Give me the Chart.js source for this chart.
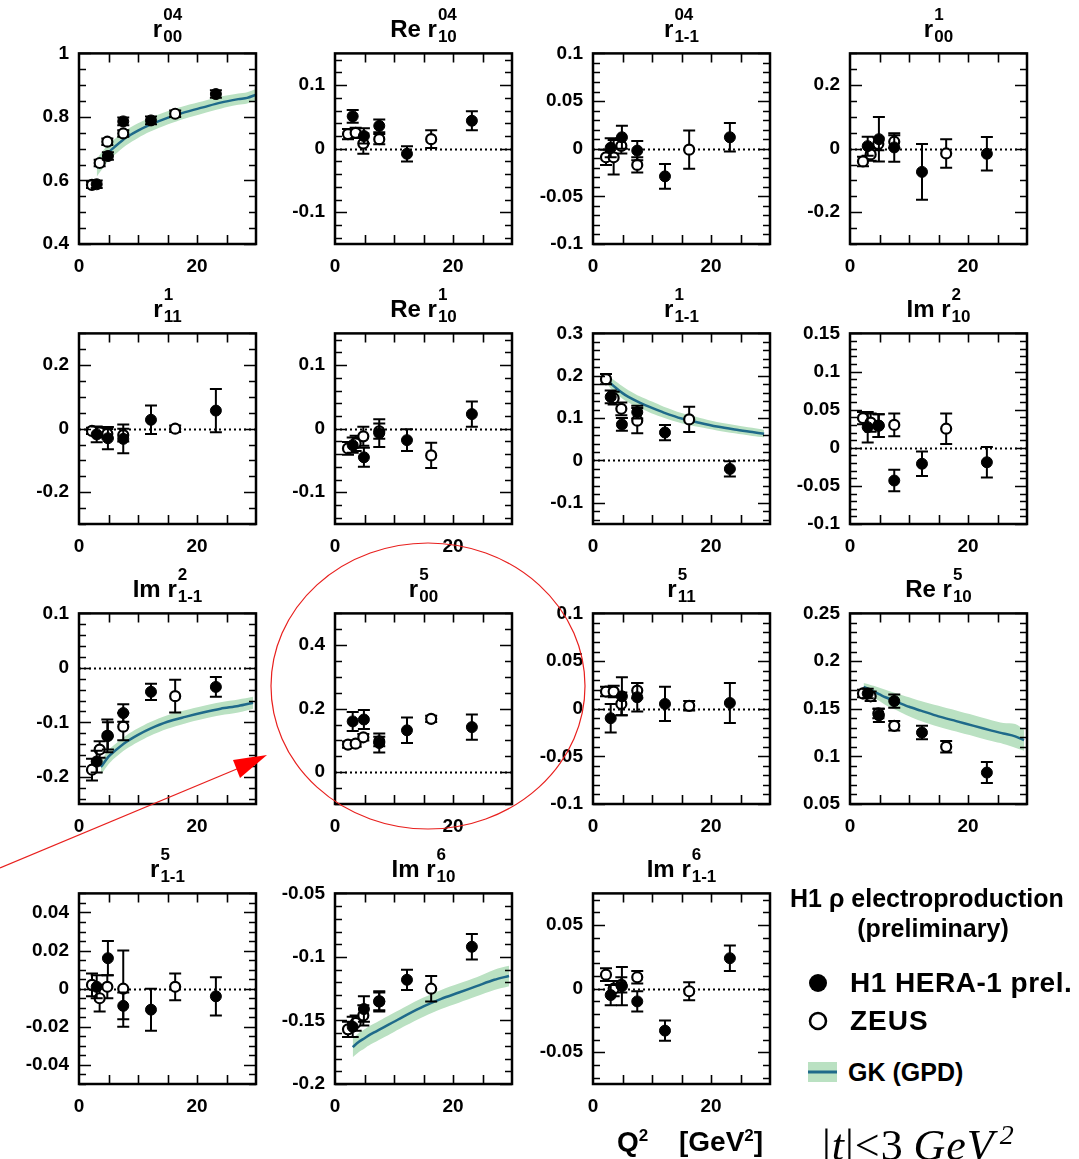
<!DOCTYPE html>
<html>
<head>
<meta charset="utf-8">
<script src="https://cdn.jsdelivr.net/npm/chart.js@4.4.0/dist/chart.umd.min.js"></script>
<style>
  body { margin: 0; background: #fff; width: 1079px; height: 1159px; position: relative; overflow: hidden;
         font-family: "Liberation Sans", Arial, sans-serif; }
  canvas.pan { position: absolute; }
  .ttl { position: absolute; height: 60px; line-height: 60px; text-align: center; font-weight: bold;
         font-size: 24px; white-space: nowrap; }
  .ss { display: inline-flex; flex-direction: column; font-size: 17px; line-height: 22px;
        vertical-align: 17px; text-align: left; margin-left: 1px; }
  .lg { position: absolute; font-weight: bold; font-size: 25px; white-space: nowrap; line-height: 30px; }
  svg.ov { position: absolute; left: 0; top: 0; pointer-events: none; }
</style>
</head>
<body>
<script>
// Q^2 bins (GeV^2)
const h1Q2   = [3.0, 4.9, 7.5, 12.2, 23.2];
const zeusQ2 = [2.2, 3.5, 4.8, 7.5, 16.3];

// r00^04
const yTicks_r04_00 = [0.4, 0.6, 0.8, 1];
const h1_r04_00 = [0.588, 0.677, 0.786, 0.789, 0.872];
const h1Err_r04_00 = [0.012, 0.012, 0.012, 0.012, 0.012];
const zeus_r04_00 = [0.586, 0.655, 0.722, 0.748, 0.81];
const zeusErr_r04_00 = [0.01, 0.01, 0.01, 0.01, 0.01];
const gkQ2_r04_00 = [3, 4, 5, 6, 8, 10, 12, 15, 18, 21, 24, 27, 28.5, 30];
const gk_r04_00   = [0.64, 0.665, 0.688, 0.705, 0.735, 0.757, 0.775, 0.797, 0.815, 0.83, 0.845, 0.856, 0.86, 0.87];
const gkLo_r04_00 = [0.612, 0.638, 0.662, 0.68, 0.711, 0.734, 0.753, 0.776, 0.795, 0.811, 0.826, 0.838, 0.842, 0.853];
const gkHi_r04_00 = [0.668, 0.692, 0.713, 0.73, 0.759, 0.78, 0.797, 0.818, 0.835, 0.849, 0.864, 0.874, 0.878, 0.888];

// Re r10^04
const yTicks_r04_10 = [-0.1, 0, 0.1];
const h1_r04_10 = [0.051, 0.02, 0.036, -0.008, 0.044];
const h1Err_r04_10 = [0.01, 0.012, 0.01, 0.012, 0.015];
const zeus_r04_10 = [0.023, 0.025, 0.008, 0.015, 0.015];
const zeusErr_r04_10 = [0.008, 0.008, 0.016, 0.008, 0.014];

// r1-1^04
const yTicks_r04_1m1 = [-0.1, -0.05, 0, 0.05, 0.1];
const h1_r04_1m1 = [0.001, 0.012, -0.002, -0.029, 0.012];
const h1Err_r04_1m1 = [0.01, 0.012, 0.01, 0.013, 0.015];
const zeus_r04_1m1 = [-0.009, -0.009, 0.003, -0.017, -0.001];
const zeusErr_r04_1m1 = [0.008, 0.018, 0.008, 0.008, 0.02];

// r00^1
const yTicks_r1_00 = [-0.2, 0, 0.2];
const h1_r1_00 = [0.008, 0.03, 0.004, -0.073, -0.016];
const h1Err_r1_00 = [0.03, 0.07, 0.045, 0.088, 0.053];
const zeus_r1_00 = [-0.04, -0.018, 0.015, 0.022, -0.015];
const zeusErr_r1_00 = [0.015, 0.02, 0.02, 0.02, 0.045];

// r11^1
const yTicks_r1_11 = [-0.2, 0, 0.2];
const h1_r1_11 = [-0.018, -0.03, -0.032, 0.028, 0.057];
const h1Err_r1_11 = [0.025, 0.035, 0.045, 0.045, 0.068];
const zeus_r1_11 = [-0.007, -0.012, -0.016, -0.02, 0.0];
const zeusErr_r1_11 = [0.01, 0.012, 0.015, 0.02, 0.01];

// Re r10^1
const yTicks_r1_10 = [-0.1, 0, 0.1];
const h1_r1_10 = [-0.026, -0.045, -0.007, -0.018, 0.023];
const h1Err_r1_10 = [0.012, 0.015, 0.022, 0.017, 0.02];
const zeus_r1_10 = [-0.031, -0.023, -0.012, -0.004, -0.042];
const zeusErr_r1_10 = [0.01, 0.012, 0.015, 0.012, 0.02];

// r1-1^1
const yTicks_r1_1m1 = [-0.1, 0, 0.1, 0.2, 0.3];
const h1_r1_1m1 = [0.15, 0.085, 0.114, 0.066, -0.02];
const h1Err_r1_1m1 = [0.015, 0.015, 0.015, 0.018, 0.018];
const zeus_r1_1m1 = [0.192, 0.147, 0.122, 0.094, 0.097];
const zeusErr_r1_1m1 = [0.012, 0.015, 0.015, 0.03, 0.03];
const gkQ2_r1_1m1 = [2.5, 3, 4, 5, 6, 8, 10, 12, 15, 18, 21, 24, 27, 29];
const gk_r1_1m1   = [0.19, 0.182, 0.17, 0.159, 0.15, 0.136, 0.124, 0.113, 0.099, 0.089, 0.08, 0.073, 0.067, 0.063];
const gkLo_r1_1m1 = [0.18, 0.17, 0.157, 0.146, 0.137, 0.123, 0.111, 0.101, 0.088, 0.079, 0.071, 0.064, 0.058, 0.055];
const gkHi_r1_1m1 = [0.2, 0.195, 0.185, 0.175, 0.166, 0.151, 0.139, 0.127, 0.112, 0.101, 0.091, 0.084, 0.077, 0.072];

// Im r10^2
const yTicks_r2_10 = [-0.1, -0.05, 0, 0.05, 0.1, 0.15];
const h1_r2_10 = [0.027, 0.029, -0.043, -0.021, -0.019];
const h1Err_r2_10 = [0.02, 0.015, 0.014, 0.016, 0.02];
const zeus_r2_10 = [0.039, 0.033, 0.029, 0.03, 0.025];
const zeusErr_r2_10 = [0.008, 0.012, 0.015, 0.015, 0.02];

// Im r1-1^2
const yTicks_r2_1m1 = [-0.2, -0.1, 0, 0.1];
const h1_r2_1m1 = [-0.172, -0.125, -0.083, -0.044, -0.035];
const h1Err_r2_1m1 = [0.02, 0.025, 0.016, 0.015, 0.018];
const zeus_r2_1m1 = [-0.187, -0.15, -0.125, -0.108, -0.052];
const zeusErr_r2_1m1 = [0.02, 0.015, 0.03, 0.025, 0.03];
const gkQ2_r2_1m1 = [3.7, 4, 5, 6, 8, 10, 12, 15, 18, 21, 24, 27, 29.5];
const gk_r2_1m1   = [-0.182, -0.178, -0.163, -0.153, -0.136, -0.123, -0.112, -0.099, -0.09, -0.082, -0.075, -0.07, -0.064];
const gkLo_r2_1m1 = [-0.196, -0.192, -0.177, -0.166, -0.149, -0.136, -0.125, -0.112, -0.102, -0.094, -0.087, -0.082, -0.075];
const gkHi_r2_1m1 = [-0.17, -0.166, -0.151, -0.141, -0.124, -0.111, -0.1, -0.087, -0.078, -0.07, -0.063, -0.058, -0.053];

// r00^5
const yTicks_r5_00 = [0, 0.2, 0.4];
const h1_r5_00 = [0.16, 0.166, 0.092, 0.132, 0.142];
const h1Err_r5_00 = [0.03, 0.03, 0.03, 0.04, 0.04];
const zeus_r5_00 = [0.087, 0.09, 0.11, 0.097, 0.168];
const zeusErr_r5_00 = [0.01, 0.01, 0.01, 0.015, 0.01];

// r11^5
const yTicks_r5_11 = [-0.1, -0.05, 0, 0.05, 0.1];
const h1_r5_11 = [-0.01, 0.013, 0.012, 0.005, 0.006];
const h1Err_r5_11 = [0.015, 0.02, 0.015, 0.018, 0.021];
const zeus_r5_11 = [0.018, 0.018, 0.005, 0.019, 0.003];
const zeusErr_r5_11 = [0.005, 0.006, 0.012, 0.008, 0.005];

// Re r10^5
const yTicks_r5_10 = [0.05, 0.1, 0.15, 0.2, 0.25];
const h1_r5_10 = [0.166, 0.143, 0.158, 0.125, 0.083];
const h1Err_r5_10 = [0.005, 0.007, 0.007, 0.007, 0.011];
const zeus_r5_10 = [0.166, 0.163, 0.145, 0.132, 0.11];
const zeusErr_r5_10 = [0.004, 0.005, 0.005, 0.005, 0.006];
const gkQ2_r5_10 = [2.3, 3, 4, 5, 6, 8, 10, 12, 15, 18, 21, 24, 26, 28, 29.5];
const gk_r5_10   = [0.173, 0.171, 0.168, 0.165, 0.162, 0.157, 0.152, 0.148, 0.142, 0.137, 0.132, 0.127, 0.124, 0.121, 0.117];
const gkLo_r5_10 = [0.168, 0.166, 0.162, 0.158, 0.154, 0.148, 0.142, 0.137, 0.131, 0.126, 0.121, 0.116, 0.113, 0.109, 0.106];
const gkHi_r5_10 = [0.177, 0.176, 0.174, 0.172, 0.17, 0.166, 0.162, 0.158, 0.153, 0.148, 0.143, 0.138, 0.135, 0.134, 0.128];

// r1-1^5
const yTicks_r5_1m1 = [-0.04, -0.02, 0, 0.02, 0.04];
const h1_r5_1m1 = [0.001, 0.016, -0.009, -0.011, -0.004];
const h1Err_r5_1m1 = [0.006, 0.009, 0.007, 0.011, 0.01];
const zeus_r5_1m1 = [0.002, -0.005, 0.001, 0.0, 0.001];
const zeusErr_r5_1m1 = [0.006, 0.007, 0.006, 0.02, 0.007];

// Im r10^6
const yTicks_r6_10 = [-0.2, -0.15, -0.1, -0.05];
const h1_r6_10 = [-0.155, -0.141, -0.135, -0.118, -0.092];
const h1Err_r6_10 = [0.008, 0.01, 0.008, 0.008, 0.01];
const zeus_r6_10 = [-0.157, -0.152, -0.146, -0.135, -0.125];
const zeusErr_r6_10 = [0.006, 0.006, 0.008, 0.007, 0.01];
const gkQ2_r6_10 = [3, 4, 5, 6, 8, 10, 12, 15, 18, 21, 24, 27, 29.5];
const gk_r6_10   = [-0.171, -0.167, -0.164, -0.161, -0.156, -0.151, -0.146, -0.139, -0.133, -0.128, -0.123, -0.118, -0.115];
const gkLo_r6_10 = [-0.179, -0.175, -0.172, -0.169, -0.164, -0.159, -0.154, -0.147, -0.141, -0.136, -0.131, -0.126, -0.123];
const gkHi_r6_10 = [-0.164, -0.16, -0.157, -0.154, -0.149, -0.144, -0.139, -0.132, -0.126, -0.121, -0.116, -0.11, -0.107];

// Im r1-1^6
const yTicks_r6_1m1 = [-0.05, 0, 0.05];
const h1_r6_1m1 = [-0.005, 0.002, -0.01, -0.033, 0.024];
const h1Err_r6_1m1 = [0.008, 0.015, 0.008, 0.008, 0.01];
const zeus_r6_1m1 = [0.011, 0.0, 0.003, 0.009, -0.002];
const zeusErr_r6_1m1 = [0.005, 0.006, 0.006, 0.005, 0.007];

const xTicks = [0, 20];

// panel table (axis range, data refs); grid position comes from the index
const panels = [
  { pre: '', sup: '04', sub: '00', min: 0.4, max: 1, ticks: yTicks_r04_00, minor: 0.05,
    h1: h1_r04_00, h1e: h1Err_r04_00, ze: zeus_r04_00, zee: zeusErr_r04_00,
    gk: [gkQ2_r04_00, gk_r04_00, gkLo_r04_00, gkHi_r04_00] },
  { pre: 'Re ', sup: '04', sub: '10', min: -0.15, max: 0.15, ticks: yTicks_r04_10, minor: 0.02,
    h1: h1_r04_10, h1e: h1Err_r04_10, ze: zeus_r04_10, zee: zeusErr_r04_10 },
  { pre: '', sup: '04', sub: '1-1', min: -0.1, max: 0.1, ticks: yTicks_r04_1m1, minor: 0.01,
    h1: h1_r04_1m1, h1e: h1Err_r04_1m1, ze: zeus_r04_1m1, zee: zeusErr_r04_1m1 },
  { pre: '', sup: '1', sub: '00', min: -0.3, max: 0.3, ticks: yTicks_r1_00, minor: 0.05,
    h1: h1_r1_00, h1e: h1Err_r1_00, ze: zeus_r1_00, zee: zeusErr_r1_00 },
  { pre: '', sup: '1', sub: '11', min: -0.3, max: 0.3, ticks: yTicks_r1_11, minor: 0.05,
    h1: h1_r1_11, h1e: h1Err_r1_11, ze: zeus_r1_11, zee: zeusErr_r1_11 },
  { pre: 'Re ', sup: '1', sub: '10', min: -0.15, max: 0.15, ticks: yTicks_r1_10, minor: 0.02,
    h1: h1_r1_10, h1e: h1Err_r1_10, ze: zeus_r1_10, zee: zeusErr_r1_10 },
  { pre: '', sup: '1', sub: '1-1', min: -0.15, max: 0.3, ticks: yTicks_r1_1m1, minor: 0.02,
    h1: h1_r1_1m1, h1e: h1Err_r1_1m1, ze: zeus_r1_1m1, zee: zeusErr_r1_1m1,
    gk: [gkQ2_r1_1m1, gk_r1_1m1, gkLo_r1_1m1, gkHi_r1_1m1] },
  { pre: 'Im ', sup: '2', sub: '10', min: -0.1, max: 0.15, ticks: yTicks_r2_10, minor: 0.01,
    h1: h1_r2_10, h1e: h1Err_r2_10, ze: zeus_r2_10, zee: zeusErr_r2_10 },
  { pre: 'Im ', sup: '2', sub: '1-1', min: -0.25, max: 0.1, ticks: yTicks_r2_1m1, minor: 0.02,
    h1: h1_r2_1m1, h1e: h1Err_r2_1m1, ze: zeus_r2_1m1, zee: zeusErr_r2_1m1,
    gk: [gkQ2_r2_1m1, gk_r2_1m1, gkLo_r2_1m1, gkHi_r2_1m1] },
  { pre: '', sup: '5', sub: '00', min: -0.1, max: 0.5, ticks: yTicks_r5_00, minor: 0.05,
    h1: h1_r5_00, h1e: h1Err_r5_00, ze: zeus_r5_00, zee: zeusErr_r5_00 },
  { pre: '', sup: '5', sub: '11', min: -0.1, max: 0.1, ticks: yTicks_r5_11, minor: 0.01,
    h1: h1_r5_11, h1e: h1Err_r5_11, ze: zeus_r5_11, zee: zeusErr_r5_11 },
  { pre: 'Re ', sup: '5', sub: '10', min: 0.05, max: 0.25, ticks: yTicks_r5_10, minor: 0.01,
    h1: h1_r5_10, h1e: h1Err_r5_10, ze: zeus_r5_10, zee: zeusErr_r5_10,
    gk: [gkQ2_r5_10, gk_r5_10, gkLo_r5_10, gkHi_r5_10] },
  { pre: '', sup: '5', sub: '1-1', min: -0.05, max: 0.05, ticks: yTicks_r5_1m1, minor: 0.005,
    h1: h1_r5_1m1, h1e: h1Err_r5_1m1, ze: zeus_r5_1m1, zee: zeusErr_r5_1m1 },
  { pre: 'Im ', sup: '6', sub: '10', min: -0.2, max: -0.05, ticks: yTicks_r6_10, minor: 0.01,
    h1: h1_r6_10, h1e: h1Err_r6_10, ze: zeus_r6_10, zee: zeusErr_r6_10,
    gk: [gkQ2_r6_10, gk_r6_10, gkLo_r6_10, gkHi_r6_10] },
  { pre: 'Im ', sup: '6', sub: '1-1', min: -0.075, max: 0.075, ticks: yTicks_r6_1m1, minor: 0.01,
    h1: h1_r6_1m1, h1e: h1Err_r6_1m1, ze: zeus_r6_1m1, zee: zeusErr_r6_1m1 }
];

const colX = [79, 335, 593, 850];   // left edge of each plot frame
const rowY = [53, 333, 613, 893];   // top edge of each plot frame
const PW = 177, PH = 190;
const AXW = 75, TOPROOM = 22, PADR = 12, AXH = 40;

const bandColor = 'rgb(186,225,194)';
const gkColor = '#1f6a8a';
const tickFont = { family: 'Liberation Sans', size: 19, weight: 'bold' };

function fmt(v) {
  const r = Math.round(v * 1000) / 1000;
  return r === 0 ? '0' : String(r);
}

// error bars, drawn right before each marker set so markers sit on top
const errBars = {
  id: 'errBars',
  beforeDatasetDraw(chart, args) {
    const ds = chart.data.datasets[args.index];
    if (!ds.err) return;
    const xs = chart.scales.x, ys = chart.scales.y, ctx = chart.ctx, a = chart.chartArea;
    ctx.save();
    ctx.beginPath();
    ctx.rect(a.left, a.top, a.right - a.left, a.bottom - a.top);
    ctx.clip();
    ctx.strokeStyle = '#000';
    ctx.lineWidth = 2;
    ds.data.forEach((pt, i) => {
      const px = xs.getPixelForValue(pt.x);
      const y1 = ys.getPixelForValue(pt.y - ds.err[i]);
      const y2 = ys.getPixelForValue(pt.y + ds.err[i]);
      ctx.beginPath();
      ctx.moveTo(px, y1); ctx.lineTo(px, y2);
      ctx.moveTo(px - 6, y1); ctx.lineTo(px + 6, y1);
      ctx.moveTo(px - 6, y2); ctx.lineTo(px + 6, y2);
      ctx.stroke();
    });
    ctx.restore();
  }
};

// dotted zero line under the data
const zeroLine = {
  id: 'zeroLine',
  beforeDatasetsDraw(chart) {
    const ys = chart.scales.y, a = chart.chartArea, ctx = chart.ctx;
    if (ys.min >= 0 || ys.max <= 0) return;
    const y0 = Math.round(ys.getPixelForValue(0)) + 0.5;
    ctx.save();
    ctx.strokeStyle = '#000';
    ctx.lineWidth = 2;
    ctx.setLineDash([2, 3]);
    ctx.beginPath();
    ctx.moveTo(a.left, y0); ctx.lineTo(a.right, y0);
    ctx.stroke();
    ctx.restore();
  }
};

// ROOT style frame with ticks pointing inwards on all four sides
const frame = {
  id: 'frame',
  afterDraw(chart, args, opts) {
    const xs = chart.scales.x, ys = chart.scales.y, a = chart.chartArea, ctx = chart.ctx;
    ctx.save();
    ctx.strokeStyle = '#000';
    ctx.lineWidth = 1.6;
    ctx.beginPath();
    const k0 = Math.ceil(ys.min / opts.minor - 1e-6), k1 = Math.floor(ys.max / opts.minor + 1e-6);
    for (let k = k0; k <= k1; k++) {
      const v = k * opts.minor;
      const major = opts.ticks.some(t => Math.abs(t - v) < opts.minor / 10);
      const len = major ? 12 : 7;
      const py = Math.round(ys.getPixelForValue(v)) + 0.5;
      ctx.moveTo(a.left, py); ctx.lineTo(a.left + len, py);
      ctx.moveTo(a.right, py); ctx.lineTo(a.right - len, py);
    }
    for (let v = 5; v < xs.max; v += 5) {
      const px = Math.round(xs.getPixelForValue(v)) + 0.5;
      ctx.moveTo(px, a.bottom); ctx.lineTo(px, a.bottom - 9);
      ctx.moveTo(px, a.top); ctx.lineTo(px, a.top + 9);
    }
    ctx.stroke();
    ctx.lineWidth = 2.5;
    ctx.strokeRect(a.left, a.top, a.right - a.left, a.bottom - a.top);
    ctx.restore();
  }
};

function makePanel(p, idx) {
  const col = idx % 4, row = Math.floor(idx / 4);
  const left = colX[col], top = rowY[row];

  const cv = document.createElement('canvas');
  cv.className = 'pan';
  cv.width = AXW + PW + PADR;
  cv.height = TOPROOM + PH + AXH;
  cv.style.left = (left - AXW) + 'px';
  document.body.appendChild(cv);

  const t = document.createElement('div');
  t.className = 'ttl';
  t.style.left = (left - 40) + 'px';
  t.style.width = (PW + 80) + 'px';
  t.style.top = (top - 54) + 'px';
  t.innerHTML = p.pre + 'r<span class="ss"><span>' + p.sup + '</span><span>' + p.sub + '</span></span>';
  document.body.appendChild(t);

  const datasets = [
    { label: 'H1 HERA-1 prel.', data: h1Q2.map((x, i) => ({ x: x, y: p.h1[i] })), err: p.h1e,
      showLine: false, pointRadius: 5.5, pointBackgroundColor: '#000', pointBorderColor: '#000',
      pointBorderWidth: 1, order: 0 },
    { label: 'ZEUS', data: zeusQ2.map((x, i) => ({ x: x, y: p.ze[i] })), err: p.zee,
      showLine: false, pointRadius: 5, pointBackgroundColor: '#fff', pointBorderColor: '#000',
      pointBorderWidth: 2.2, order: 1 }
  ];
  if (p.gk) {
    const [gx, gm, glo, ghi] = p.gk;
    datasets.push({ type: 'line', label: 'GK (GPD)', data: gx.map((x, i) => ({ x: x, y: gm[i] })),
      borderColor: gkColor, borderWidth: 2.5, pointRadius: 0, fill: false, tension: 0.3, order: 2 });
    datasets.push({ type: 'line', label: 'band hi', data: gx.map((x, i) => ({ x: x, y: ghi[i] })),
      borderWidth: 0, borderColor: 'rgba(0,0,0,0)', pointRadius: 0, tension: 0.3,
      backgroundColor: bandColor, fill: '+1', order: 3 });
    datasets.push({ type: 'line', label: 'band lo', data: gx.map((x, i) => ({ x: x, y: glo[i] })),
      borderWidth: 0, borderColor: 'rgba(0,0,0,0)', pointRadius: 0, tension: 0.3, fill: false, order: 4 });
  }

  const chart = new Chart(cv.getContext('2d'), {
    type: 'scatter',
    data: { datasets: datasets },
    plugins: [zeroLine, errBars, frame],
    options: {
      responsive: false,
      animation: false,
      devicePixelRatio: 1,
      layout: { padding: { left: 0, top: 0, right: PADR, bottom: 0 } },
      plugins: {
        legend: { display: false },
        tooltip: { enabled: false },
        frame: { ticks: p.ticks, minor: p.minor }
      },
      scales: {
        x: {
          type: 'linear', min: 0, max: 30,
          afterBuildTicks: s => { s.ticks = xTicks.map(v => ({ value: v })); },
          afterFit: s => { s.height = AXH; },
          grid: { display: false, drawTicks: false },
          border: { display: false },
          ticks: { padding: 11, maxRotation: 0, autoSkip: false, color: '#000', font: tickFont,
                   callback: v => fmt(v) }
        },
        y: {
          type: 'linear', min: p.min, max: p.max,
          afterBuildTicks: s => { s.ticks = p.ticks.map(v => ({ value: v })); },
          afterFit: s => { s.width = AXW; },
          grid: { display: false, drawTicks: false },
          border: { display: false },
          ticks: { padding: 10, autoSkip: false, color: '#000', font: tickFont,
                   callback: v => fmt(v) }
        }
      }
    }
  });
  // line the plot frame up with the grid, whatever room the top tick label took
  cv.style.top = (top - chart.chartArea.top) + 'px';
}

panels.forEach(makePanel);
</script>

<!-- legend and labels -->
<div class="lg" style="left:790px; top:883px;">H1 &#961; electroproduction</div>
<div class="lg" style="left:790px; top:913px; width:286px; text-align:center;">(preliminary)</div>
<div class="lg" style="left:850px; top:968px; font-size:28px; letter-spacing:0.5px;">H1 HERA-1 prel.</div>
<div class="lg" style="left:850px; top:1006px; font-size:28px; letter-spacing:1px;">ZEUS</div>
<div class="lg" style="left:848px; top:1057px; font-size:25px;">GK (GPD)</div>
<div class="lg" style="left:617px; top:1121px; font-size:28px;">Q<sup style="font-size:17px;">2</sup></div>
<div class="lg" style="left:679px; top:1121px; font-size:28px;">[GeV<sup style="font-size:17px;">2</sup>]</div>
<div class="lg" style="left:822px; top:1111px; font-family:'Liberation Serif',serif; font-weight:normal; font-size:44px; line-height:48px; letter-spacing:1px;">|<i>t</i>|&lt;3&thinsp;<i>GeV</i><sup style="font-size:28px; margin-left:5px;"><i>2</i></sup></div>

<svg class="ov" width="1079" height="1159">
  <ellipse cx="428" cy="686" rx="157" ry="143" fill="none" stroke="#e8201e" stroke-width="1.2"/>
  <line x1="0" y1="868" x2="244" y2="766" stroke="#e8201e" stroke-width="1.2"/>
  <polygon points="267,755 233,760 240,778" fill="#ff0000"/>
  <circle cx="818" cy="983" r="9" fill="#000"/>
  <circle cx="818" cy="1021" r="8" fill="#fff" stroke="#000" stroke-width="2.5"/>
  <rect x="808" y="1062" width="29" height="20" fill="rgb(186,225,194)"/>
  <line x1="808" y1="1072" x2="837" y2="1072" stroke="#1f6a8a" stroke-width="3"/>
</svg>
</body>
</html>
